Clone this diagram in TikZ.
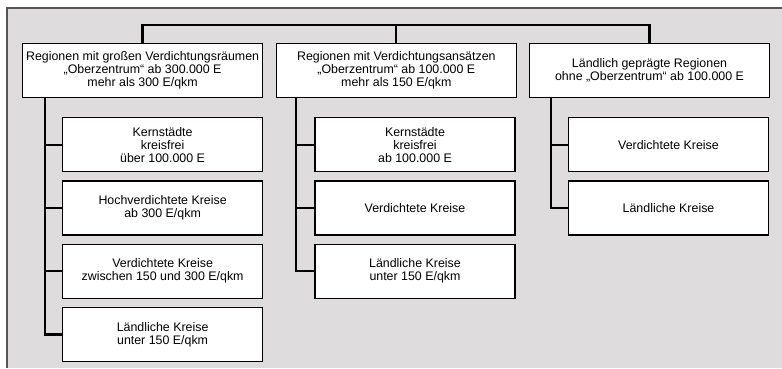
\documentclass[tikz,border=0pt]{standalone}
\usepackage{fontspec}
\setmainfont{Liberation Sans}
\usepackage{xcolor}
\definecolor{panelgray}{RGB}{222,220,220}
\definecolor{rimgray}{RGB}{85,85,85}
\usetikzlibrary{positioning,calc}

\begin{document}
\begin{tikzpicture}[
    node distance=6pt and 9.4pt,
    region/.style={draw=black, rectangle, fill=white, line width=0.9pt, align=center, minimum width=180pt, minimum height=40.5pt, inner sep=2pt, font=\fontsize{9.3}{9.7}\selectfont},
    kreis/.style={draw=black, rectangle, fill=white, line width=0.9pt, align=center, minimum width=150pt, minimum height=40.5pt, inner sep=2pt, font=\fontsize{9.3}{9.7}\selectfont},
    link/.style={line width=1.7pt, color=black}
]

% page frame and grey panel
\useasboundingbox (0,0) rectangle (586.5pt,-276pt);
\fill[panelgray] (5.25pt,-6pt) rectangle (586.5pt,-276pt);
\draw[rimgray, line width=0.8pt] (5.25pt,-276pt) -- (5.25pt,-6pt) -- (586.5pt,-6pt);

% Top level: region types
\node[region, anchor=north west] (r1) at (16.5pt,-32.25pt) {
    Regionen mit großen Verdichtungsräumen\\
    „Oberzentrum“ ab 300.000 E\\
    mehr als 300 E/qkm
};
\node[region, right=of r1] (r2) {
    Regionen mit Verdichtungsansätzen\\
    „Oberzentrum“ ab 100.000 E\\
    mehr als 150 E/qkm
};
\node[region, right=9pt of r2] (r3) {
    Ländlich geprägte Regionen\\
    ohne „Oberzentrum“ ab 100.000 E
};

% Column 1: district types
\node[kreis, below left=14.25pt and 0pt of r1.south east] (k11) {Kernstädte\\ kreisfrei\\ über 100.000 E};
\node[kreis, below=of k11] (k12) {Hochverdichtete Kreise\\ ab 300 E/qkm};
\node[kreis, below=of k12] (k13) {Verdichtete Kreise\\ zwischen 150 und 300 E/qkm};
\node[kreis, below=of k13] (k14) {Ländliche Kreise\\ unter 150 E/qkm};

% Column 2
\node[kreis, below left=14.25pt and 1pt of r2.south east] (k21) {Kernstädte\\ kreisfrei\\ ab 100.000 E};
\node[kreis, below=of k21] (k22) {Verdichtete Kreise};
\node[kreis, below=of k22] (k23) {Ländliche Kreise\\ unter 150 E/qkm};

% Column 3
\node[kreis, below left=14.25pt and 0.75pt of r3.south east] (k31) {Verdichtete Kreise};
\node[kreis, below=of k31] (k32) {Ländliche Kreise};

% connectors
\draw[link] (r1.north) -- ++(0,13.5pt) -| (r3.north);
\draw[link] (r2.north) -- ++(0,13.5pt);

\draw[link] ([xshift=17.25pt]r1.south west) |- (k14.west);
\foreach \k in {k11,k12,k13}
    \draw[link] ([xshift=17.25pt]r1.south west) |- (\k.west);

\draw[link] ([xshift=15pt]r2.south west) |- (k23.west);
\foreach \k in {k21,k22}
    \draw[link] ([xshift=15pt]r2.south west) |- (\k.west);

\draw[link] ([xshift=16.5pt]r3.south west) |- (k32.west);
\draw[link] ([xshift=16.5pt]r3.south west) |- (k31.west);

\end{tikzpicture}
\end{document}
